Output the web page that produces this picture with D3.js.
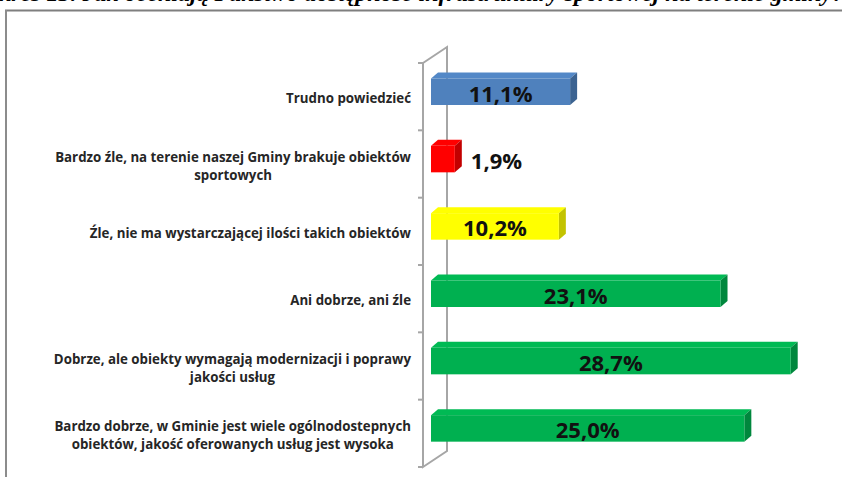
<!DOCTYPE html>
<html>
<head>
<meta charset="utf-8">
<script src="https://cdn.jsdelivr.net/npm/d3@7"></script>
<style>
  body { margin: 0; background: #fff; }
  svg { display: block; }
</style>
</head>
<body>
<script>
// data, top to bottom as in the chart
var categories = [
  "Trudno powiedzieć",
  "Bardzo źle, na terenie naszej Gminy brakuje obiektów\nsportowych",
  "Źle, nie ma wystarczającej ilości takich obiektów",
  "Ani dobrze, ani źle",
  "Dobrze, ale obiekty wymagają modernizacji i poprawy\njakości usług",
  "Bardzo dobrze, w Gminie jest wiele ogólnodostepnych\nobiektów, jakość oferowanych usług jest wysoka"
];
var values = [11.1, 1.9, 10.2, 23.1, 28.7, 25.0];
var valueLabels = ["11,1%", "1,9%", "10,2%", "23,1%", "28,7%", "25,0%"];
var colors = ["#4F81BD", "#FF0000", "#FFFF00", "#00B050", "#00B050", "#00B050"];
var title = "Wykres 13. Jak oceniają Państwo dostępność infrastruktury sportowej na terenie gminy?";

var W = 842, H = 477;
var svg = d3.select("body").append("svg").attr("width", W).attr("height", H);

// scales
var x = d3.scaleLinear().domain([0, 30]).range([431, 807]);
var y = d3.scaleBand().domain(d3.range(categories.length)).range([63, 467]);

var DX = 7, DY = 6;          // bar depth
var AX = 24, AY = 16;        // axis wall depth
var axisX = 423;

// title, cut by the top edge (only the bottom of the letters shows)
svg.append("text")
  .attr("x", W + 2)
  .attr("y", 1)
  .attr("text-anchor", "end")
  .style("font-family", "'Liberation Serif', serif")
  .style("font-style", "italic")
  .style("font-weight", "bold")
  .style("font-size", "24px")
  .text(title);

// frame
svg.append("line").attr("x1", 5).attr("x2", W).attr("y1", 10.5).attr("y2", 10.5)
  .attr("stroke", "#7f7f7f").attr("stroke-width", 2);
svg.append("line").attr("x1", 6).attr("x2", 6).attr("y1", 10).attr("y2", H)
  .attr("stroke", "#8c8c8c").attr("stroke-width", 2);

// axis wall
var axisG = svg.append("g").attr("fill", "none").attr("stroke", "#a6a6a6").attr("stroke-width", 2);
var y0 = y.range()[0], y1 = y.range()[1];
axisG.append("path")
  .attr("d", "M" + axisX + "," + y0 + "L" + (axisX + AX) + "," + (y0 - AY) +
             "L" + (axisX + AX) + "," + (y1 - AY) + "L" + axisX + "," + y1 + "Z");
var ticks = d3.range(categories.length + 1).map(function(i){ return y0 + i * y.bandwidth(); });
axisG.selectAll("line.tick")
  .data(ticks)
  .enter()
  .append("line")
  .attr("x1", axisX - 5).attr("x2", axisX)
  .attr("y1", function(d){ return d; })
  .attr("y2", function(d){ return d; });

// bars
function faceTop(i){ return y(i) + 15.5; }
function faceBot(i){ return y(i) + 42; }

var bars = svg.append("g").selectAll("g")
  .data(values)
  .enter()
  .append("g");

bars.append("path") // top face
  .attr("fill", function(d, i){ return d3.color(colors[i]).brighter(0.15); })
  .attr("d", function(d, i){
    var l = x(0), r = x(d), t = faceTop(i);
    return "M" + l + "," + t + "L" + (l + DX) + "," + (t - DY) + "L" + (r + DX) + "," + (t - DY) + "L" + r + "," + t + "Z";
  });

bars.append("path") // side face
  .attr("fill", function(d, i){ return d3.color(colors[i]).darker(0.75); })
  .attr("d", function(d, i){
    var r = x(d), t = faceTop(i), b = faceBot(i);
    return "M" + r + "," + t + "L" + (r + DX) + "," + (t - DY) + "L" + (r + DX) + "," + (b - DY) + "L" + r + "," + b + "Z";
  });

bars.append("rect") // front face
  .attr("x", x(0))
  .attr("y", function(d, i){ return faceTop(i); })
  .attr("width", function(d){ return x(d) - x(0); })
  .attr("height", function(d, i){ return faceBot(i) - faceTop(i); })
  .attr("fill", function(d, i){ return colors[i]; });

// value labels
bars.append("text")
  .attr("x", function(d){ return d < 5 ? x(d) + 16 : (x(0) + x(d)) / 2; })
  .attr("y", function(d, i){ return (faceTop(i) + faceBot(i)) / 2 + 10; })
  .attr("text-anchor", function(d){ return d < 5 ? "start" : "middle"; })
  .style("font-family", "'Open Sans', sans-serif")
  .style("font-weight", "bold")
  .style("font-size", "22px")
  .attr("fill", "#111")
  .text(function(d, i){ return valueLabels[i]; });

// category labels: right-aligned block, lines centred
var labelRight = 411, lineH = 18;
categories.forEach(function(c, i){
  var lines = c.split("\n");
  var g = svg.append("g");
  var cy = y(i) + y.bandwidth() / 2 + 2;
  var t = g.selectAll("text")
    .data(lines)
    .enter()
    .append("text")
    .attr("text-anchor", "middle")
    .attr("y", function(d, k){ return cy + (k - (lines.length - 1) / 2) * lineH + 4.5; })
    .style("font-family", "'Open Sans', sans-serif")
    .style("font-weight", "bold")
    .style("font-size", "13.3px")
    .attr("fill", "#262626")
    .text(function(d){ return d; });
  var maxW = d3.max(t.nodes(), function(n){ return n.getComputedTextLength(); });
  t.attr("x", labelRight - maxW / 2);
});
</script>
</body>
</html>
